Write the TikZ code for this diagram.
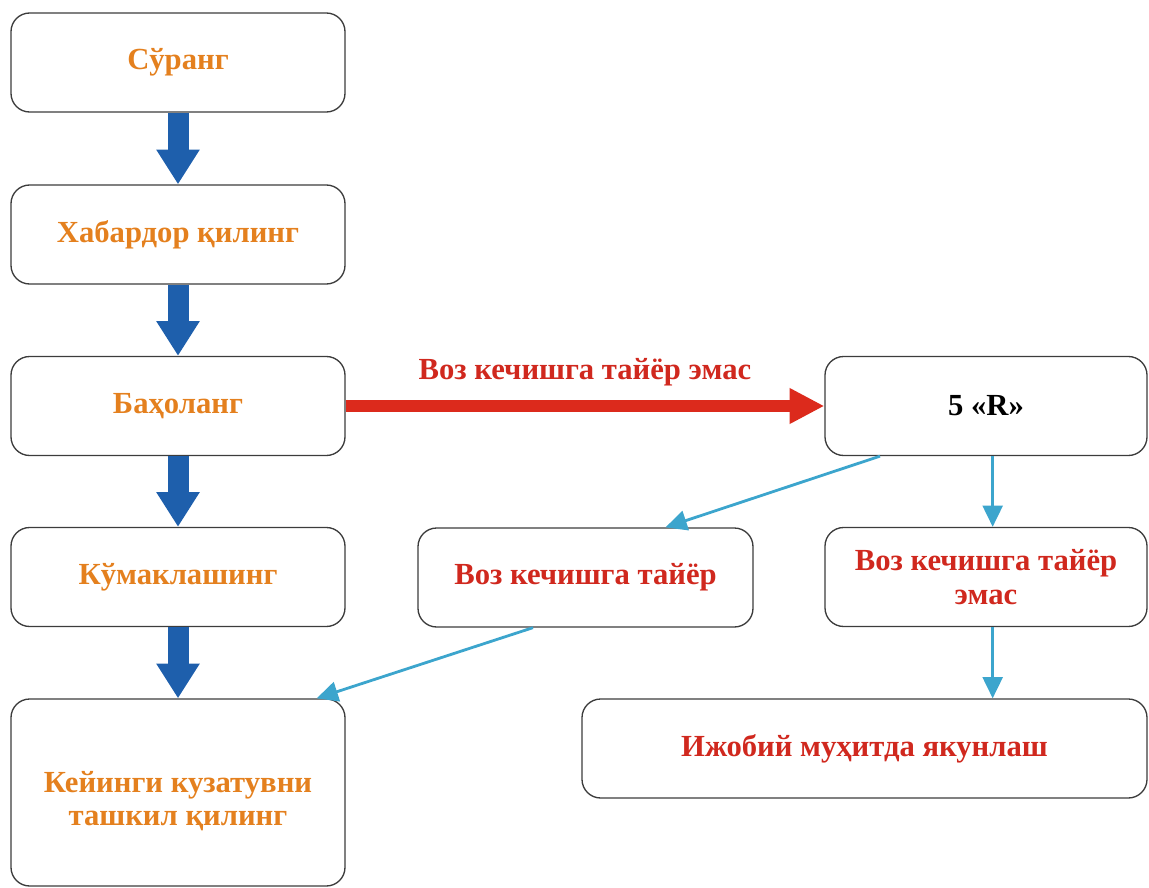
\documentclass[tikz,border=0pt]{standalone}
\usepackage{fontspec}
\setmainfont{Liberation Serif}
\usetikzlibrary{arrows.meta,calc}
\definecolor{txtorange}{RGB}{228,128,30}
\definecolor{txtred}{RGB}{208,40,30}
\definecolor{arrblue}{RGB}{30,95,172}
\definecolor{arrred}{RGB}{220,42,28}
\definecolor{arrcyan}{RGB}{60,165,205}
\definecolor{boxgray}{RGB}{60,60,60}
\begin{document}
\begin{tikzpicture}[x=0.75pt,y=-0.75pt,
  box/.style={draw=boxgray, line width=1pt, rounded corners=14pt, align=center,
    font=\bfseries\fontsize{23}{25}\selectfont, inner sep=0pt},
  leftbox/.style={box, minimum width=250.5pt, minimum height=74.25pt, text=txtorange},
  redbox/.style={box, text=txtred},
  bigarrow/.style={draw=arrblue, line width=15.75pt, -{Triangle[width=30.75pt,length=26pt]}},
  redarrow/.style={draw=arrred, line width=9pt, -{Triangle[width=25pt,length=26pt]}},
  thinarrow/.style={draw=arrcyan, line width=2.1pt, -{Triangle[width=15pt,length=16pt]}}
]
\useasboundingbox (0,0) rectangle (1149,888);

\node[leftbox] (b1) at (178,62.5) {Сўранг};
\node[leftbox] (b2) at (178,234.5) {Хабардор қилинг};
\node[leftbox] (b3) at (178,406) {Баҳоланг};
\node[leftbox] (b4) at (178,577) {Кўмаклашинг};
\node[leftbox, minimum height=140.25pt] (b5) at (178,792.5) {\rule{0pt}{10pt}\\[-6pt]Кейинги кузатувни\\ташкил қилинг};

\node[box, minimum width=241.5pt, minimum height=74.25pt, text=black] (r5) at (986,406) {5 «R»};
\node[redbox, minimum width=251.25pt, minimum height=74.25pt] (mid) at (585.5,577.5) {Воз кечишга тайёр};
\node[redbox, minimum width=241.5pt, minimum height=74.25pt] (rb) at (986,577) {Воз кечишга тайёр\\эмас};
\node[redbox, minimum width=423.75pt, minimum height=74.25pt] (fin) at (864.5,748.5) {Ижобий муҳитда якунлаш};

\draw[bigarrow] (b1.south) -- (b2.north);
\draw[bigarrow] (b2.south) -- (b3.north);
\draw[bigarrow] (b3.south) -- (b4.north);
\draw[bigarrow] (b4.south) -- (b5.north);

\draw[redarrow] (b3.east) -- (r5.west)
  node[midway, yshift=25pt, text=txtred, font=\bfseries\fontsize{23}{25}\selectfont] (lbl) {Воз кечишга тайёр эмас};

\draw[thinarrow] ([xshift=-79.5pt]r5.south) -- ([xshift=60pt]mid.north);
\draw[thinarrow] ([xshift=5pt]r5.south) -- ([xshift=5pt]rb.north);
\draw[thinarrow] ([xshift=-39.4pt]mid.south) -- ([xshift=104pt]b5.north);
\draw[thinarrow] ([xshift=5pt]rb.south) -- ([xshift=5pt]rb.south |- fin.north);
\end{tikzpicture}
\end{document}
